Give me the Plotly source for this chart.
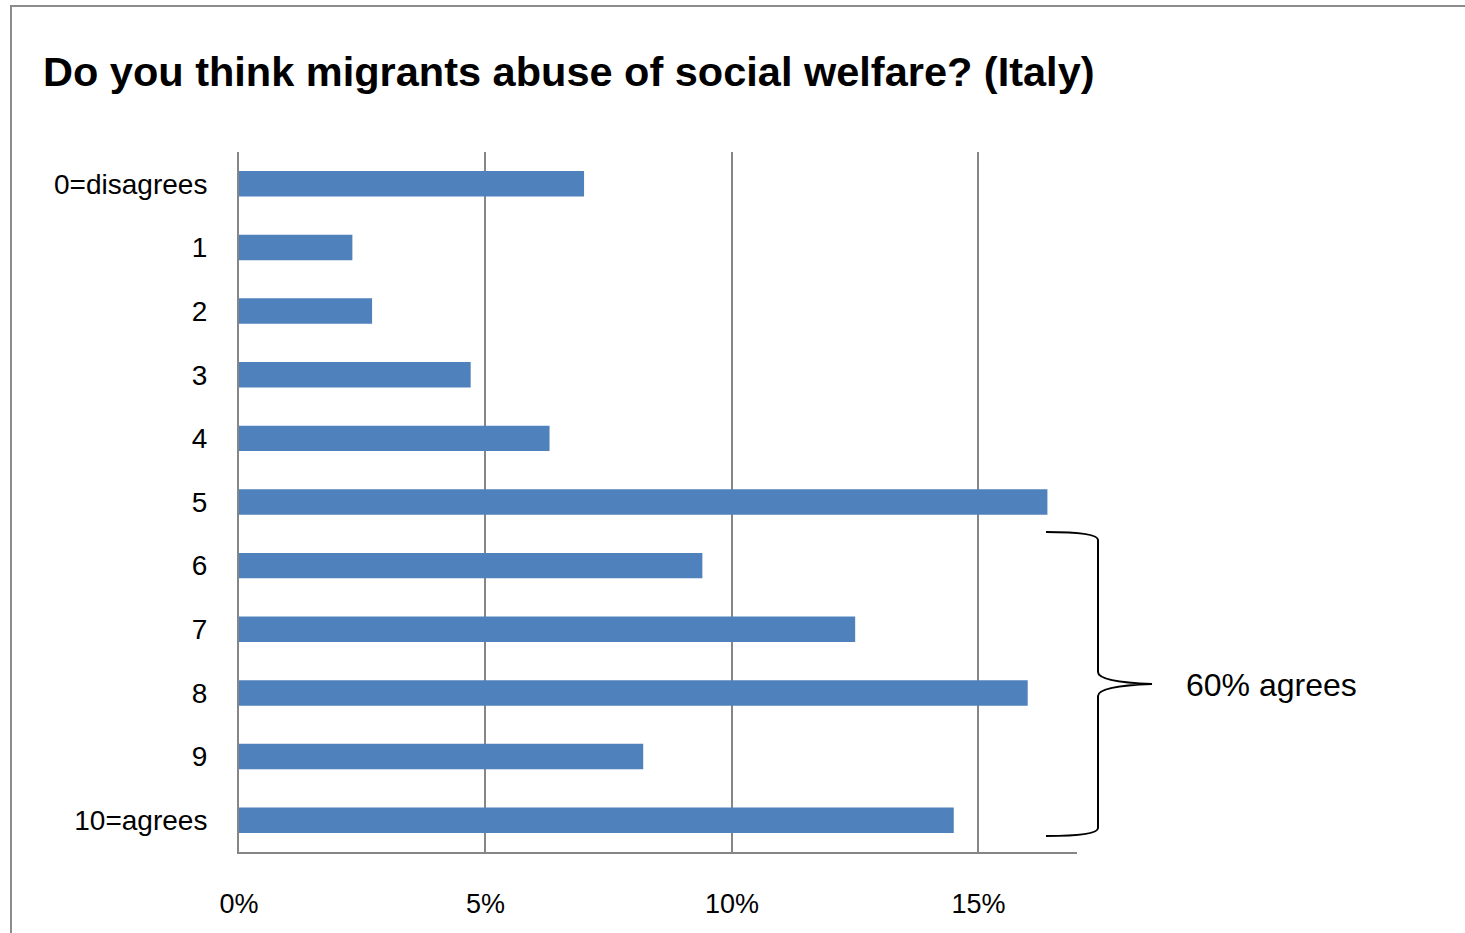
import plotly.graph_objects as go

categories = ["0=disagrees", "1", "2", "3", "4", "5", "6", "7", "8", "9", "10=agrees"]
values = [7.0, 2.3, 2.7, 4.7, 6.3, 16.4, 9.4, 12.5, 16.0, 8.2, 14.5]
x_ticks = [0, 5, 10, 15]
x_tick_labels = ["0%", "5%", "10%", "15%"]
title_text = "Do you think migrants abuse of social welfare? (Italy)"
brace_label = "60% agrees"

W, H = 1465, 933
L, R, T, B = 239, 1465 - 1077, 152, 933 - 852
pw, ph = W - L - R, H - T - B

def px(p):
    return (p - L) / pw

def py(p):
    return (H - B - p) / ph

FONT = "Liberation Sans"

fig = go.Figure(go.Bar(
    x=values, y=categories, orientation="h",
    marker=dict(color="#4F81BD", line=dict(width=0)),
    width=0.4,
))

# brace path (pixel geometry converted to paper coords)
pts = [
    ("M", 1046, 532),
    ("Q", 1098, 532, 1098, 540),
    ("L", 1098, 672),
    ("Q", 1098, 682, 1152, 684),
    ("Q", 1098, 686, 1098, 696),
    ("L", 1098, 828),
    ("Q", 1098, 836, 1046, 836),
]
path = ""
for seg in pts:
    cmd = seg[0]
    coords = seg[1:]
    s = []
    for i in range(0, len(coords), 2):
        s.append(f"{px(coords[i]):.5f},{py(coords[i+1]):.5f}")
    path += cmd + " " + " ".join(s) + " "

fig.update_layout(
    width=W, height=H,
    margin=dict(l=L, r=R, t=T, b=B, pad=0),
    paper_bgcolor="white", plot_bgcolor="white",
    showlegend=False,
    bargap=0.6,
    font=dict(family=FONT, size=27, color="black"),
    xaxis=dict(
        range=[0, 17], tickvals=x_ticks, ticktext=x_tick_labels,
        showgrid=True, gridcolor="#868686", gridwidth=1.5,
        showline=True, linecolor="#868686", linewidth=2,
        ticks="", zeroline=False, ticklabelstandoff=27,
        automargin=False,
        tickfont=dict(family=FONT, size=27, color="black"),
    ),
    yaxis=dict(
        autorange="reversed", showgrid=False,
        showline=True, linecolor="#868686", linewidth=2,
        ticks="", ticklabelstandoff=24, automargin=False,
        tickfont=dict(family=FONT, size=28, color="black"),
    ),
    shapes=[
        dict(type="rect", xref="paper", yref="paper",
             x0=px(11), x1=px(1480), y0=py(950), y1=py(6),
             line=dict(color="#8c8c8c", width=2), layer="below"),
        dict(type="path", xref="paper", yref="paper", path=path,
             line=dict(color="black", width=2)),
    ],
    annotations=[
        dict(text=f"<b>{title_text}</b>", xref="paper", yref="paper",
             x=px(41), y=py(72), xanchor="left", yanchor="middle",
             showarrow=False, font=dict(family=FONT, size=41.5, color="black")),
        dict(text=brace_label, xref="paper", yref="paper",
             x=px(1184), y=py(685), xanchor="left", yanchor="middle",
             showarrow=False, font=dict(family=FONT, size=32, color="black")),
    ],
)

fig.write_html("out.html")
